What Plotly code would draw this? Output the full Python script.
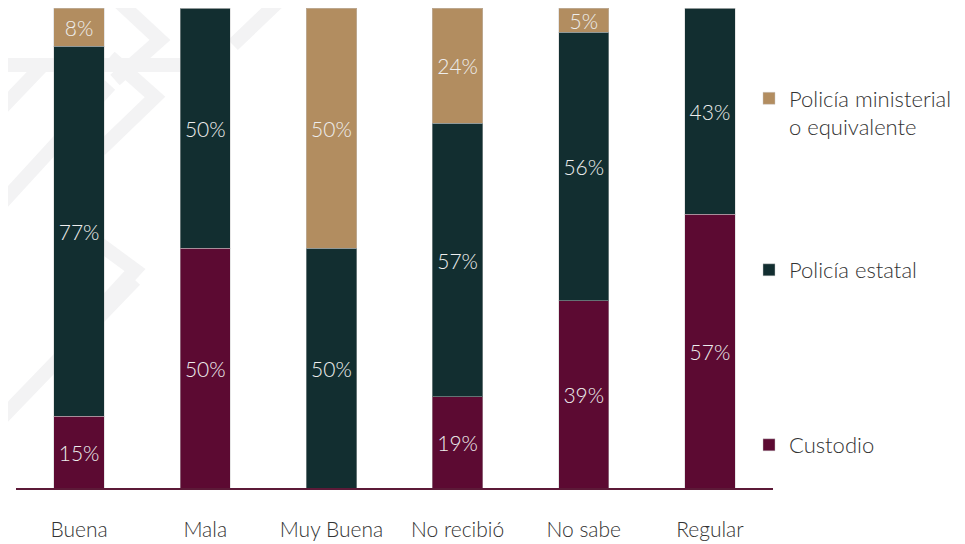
import plotly.graph_objects as go

# Datos
categorias = ["Buena", "Mala", "Muy Buena", "No recibió", "No sabe", "Regular"]
custodio = [15, 50, 0, 19, 39, 57]
policia_estatal = [77, 50, 50, 57, 56, 43]
policia_ministerial = [8, 0, 50, 24, 5, 0]

series = [
    ("Custodio", custodio, "#5c0a32", "legend3"),
    ("Policía estatal", policia_estatal, "#122e30", "legend2"),
    ("Policía ministerial<br>o equivalente", policia_ministerial, "#b28d60", "legend"),
]

FUENTE = "Lato"
OFF = 8  # margen del body de la pagina
W, H = 965 - OFF, 544 - OFF
L, R, T, B = 16 - OFF, 192, 8 - OFF, 56


def px(x, y):
    # pixeles de la ventana -> coordenadas paper
    return (x - OFF - L) / (W - L - R), (H - B - (y - OFF)) / (H - T - B)


fig = go.Figure()

for nombre, valores, color, leyenda in series:
    fig.add_trace(go.Bar(
        x=categorias,
        y=valores,
        name=nombre,
        marker=dict(color=color, line=dict(color="rgba(200,200,200,0.45)", width=1)),
        text=[f"{v}%" if v > 0 else "" for v in valores],
        textposition="inside",
        insidetextanchor="middle",
        textangle=0,
        constraintext="none",
        textfont=dict(family=FUENTE, size=21, color="#eeeeee", weight=300),
        legend=leyenda,
    ))

# marca de agua de fondo
trazos = [
    [(0, 65), (180, 65)],
    [(117, 0), (160, 40), (115, 80)],
    [(110, 57), (155, 97), (100, 150)],
    [(0, 110), (45, 63)],
    [(0, 205), (110, 85)],
    [(0, 420), (135, 280)],
    [(60, 215), (135, 270), (80, 330)],
    [(233, 45), (280, 0)],
]
for trazo in trazos:
    pts = [px(x, y) for x, y in trazo]
    camino = "M " + " L ".join(f"{a},{b}" for a, b in pts)
    fig.add_shape(type="path", path=camino, xref="paper", yref="paper",
                  line=dict(color="#f3f3f4", width=14), layer="below")

leyenda_base = dict(
    font=dict(family=FUENTE, size=22, color="#333333", weight=300),
    bgcolor="rgba(0,0,0,0)",
    xanchor="left",
    yanchor="middle",
    valign="top",
)
x_ley = px(749, 0)[0]
fig.update_layout(
    legend=dict(leyenda_base, x=x_ley, y=px(0, 113)[1]),
    legend2=dict(leyenda_base, x=x_ley, y=px(0, 270)[1]),
    legend3=dict(leyenda_base, x=x_ley, y=px(0, 445)[1]),
)

fig.update_layout(
    barmode="stack",
    bargap=0.6,
    width=W,
    height=H,
    margin=dict(l=L, r=R, t=T, b=B),
    plot_bgcolor="white",
    paper_bgcolor="white",
    showlegend=True,
)
fig.update_xaxes(
    showline=True, linecolor="#5c1a38", linewidth=2,
    tickfont=dict(family=FUENTE, size=21, color="#333333", weight=300),
    ticks="", ticklabelstandoff=22, automargin=False,
)
fig.update_yaxes(range=[0, 100], visible=False, showgrid=False, automargin=False)

fig.write_html("out.html")
